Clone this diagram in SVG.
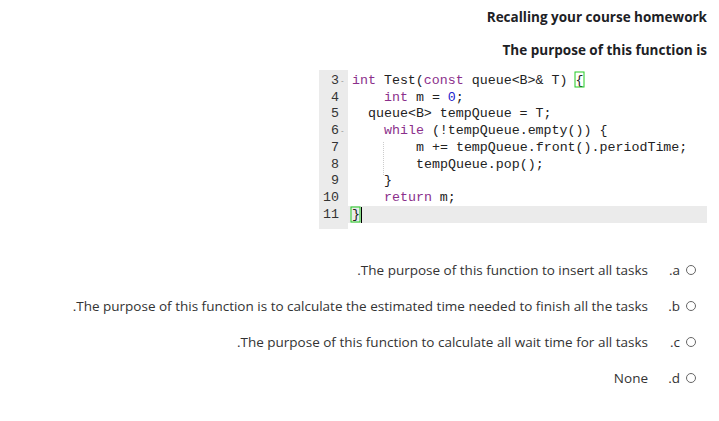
<svg xmlns="http://www.w3.org/2000/svg" width="719" height="421" viewBox="0 0 719 421">
<style>
.t{font-family:"Open Sans","Liberation Sans",sans-serif;font-size:13.5px;fill:#333}
.h{font-family:"Open Sans","Liberation Sans",sans-serif;font-size:13.5px;font-weight:bold;fill:#1d2125}
.c{font-family:"Liberation Mono",monospace;font-size:13.3px;fill:#222;white-space:pre}
.n{font-family:"Liberation Mono",monospace;font-size:13.3px;fill:#333}
.k{fill:#8b2f8b}
.r{fill:#fff;stroke:#666;stroke-width:1}
</style>
<rect width="719" height="421" fill="#fff"/>
<text class="h" x="707" y="22" text-anchor="end">Recalling your course homework</text>
<text class="h" x="707" y="55" text-anchor="end">The purpose of this function is</text>
<g id="code">
<rect x="319" y="70" width="29" height="159" fill="#ebebeb"/>
<rect x="348" y="206" width="359" height="17" fill="#ebebeb"/>
<line x1="383.5" y1="142" x2="383.5" y2="176" stroke="#ccc" stroke-dasharray="1,1"/>
<g class="n" text-anchor="end">
<text x="339" y="84">3</text><text x="339" y="101">4</text><text x="339" y="117">5</text><text x="339" y="134">6</text><text x="339" y="151">7</text><text x="339" y="168">8</text><text x="339" y="184">9</text><text x="339" y="201">10</text><text x="339" y="218">11</text>
</g>
<text x="341" y="83" font-size="8" fill="#888" font-family="Liberation Sans">-</text>
<text x="341" y="133" font-size="8" fill="#888" font-family="Liberation Sans">-</text>
<text class="c" x="352" y="84"><tspan class="k">int</tspan> Test(<tspan class="k">const</tspan> queue&lt;B&gt;&amp; T) {</text>
<rect x="575" y="72" width="9" height="15" fill="none" stroke="#2c2" stroke-width="1"/>
<text class="c" x="384" y="101"><tspan class="k">int</tspan> m = <tspan fill="#22c">0</tspan>;</text>
<text class="c" x="368" y="117">queue&lt;B&gt; tempQueue = T;</text>
<text class="c" x="384" y="134"><tspan class="k">while</tspan> (!tempQueue.empty()) {</text>
<text class="c" x="416" y="151">m += tempQueue.front().periodTime;</text>
<text class="c" x="416" y="168">tempQueue.pop();</text>
<text class="c" x="384" y="184">}</text>
<text class="c" x="384" y="201"><tspan class="k">return</tspan> m;</text>
<rect x="351" y="207" width="9" height="15" fill="none" stroke="#2c2" stroke-width="1"/>
<text class="c" x="352" y="218">}</text>
<line x1="361.5" y1="207" x2="361.5" y2="223" stroke="#000"/>
</g>
<g id="options">
<text class="t" x="648" y="275" text-anchor="end">.The purpose of this function to insert all tasks</text>
<text class="t" x="680" y="275" text-anchor="end">.a</text>
<circle class="r" cx="691" cy="270" r="4.5"/>
<text class="t" x="648" y="311" text-anchor="end">.The purpose of this function is to calculate the estimated time needed to finish all the tasks</text>
<text class="t" x="680" y="311" text-anchor="end">.b</text>
<circle class="r" cx="691" cy="306" r="4.5"/>
<text class="t" x="648" y="347" text-anchor="end">.The purpose of this function to calculate all wait time for all tasks</text>
<text class="t" x="680" y="347" text-anchor="end">.c</text>
<circle class="r" cx="691" cy="342" r="4.5"/>
<text class="t" x="648" y="383" text-anchor="end">None</text>
<text class="t" x="680" y="383" text-anchor="end">.d</text>
<circle class="r" cx="691" cy="378" r="4.5"/>
</g>
</svg>
